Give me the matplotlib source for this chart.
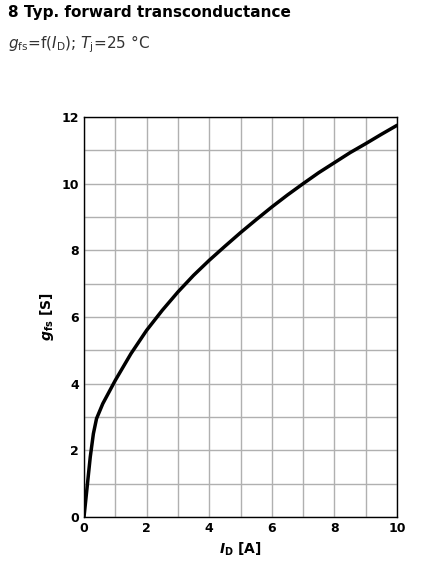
import matplotlib
matplotlib.use("Agg")
import matplotlib.pyplot as plt

id_a = [0, 0.1, 0.2, 0.3, 0.4, 0.6, 0.8, 1, 1.5, 2, 2.5, 3, 3.5, 4, 4.5, 5, 5.5, 6, 6.5, 7, 7.5, 8, 8.5, 9, 9.5, 10]
gfs = [0, 0.9, 1.8, 2.5, 2.95, 3.4, 3.75, 4.1, 4.9, 5.6, 6.2, 6.75, 7.25, 7.7, 8.12, 8.53, 8.92, 9.3, 9.66, 10.0, 10.33, 10.63, 10.93, 11.2, 11.48, 11.75]

fig = plt.figure(figsize=(4.42, 5.78), dpi=100)
ax = fig.add_axes([84/442, 1-517/578, 313/442, 400/578])
ax.plot(id_a, gfs, color='black', lw=2.5, solid_capstyle='round', solid_joinstyle='round')
ax.set_xlim(0, 10)
ax.set_ylim(0, 12)
ax.set_xticks(range(0, 11, 2))
ax.set_yticks(range(0, 13, 2))
ax.set_xticks(range(0, 11), minor=True)
ax.set_yticks(range(0, 13), minor=True)
ax.grid(which='both', color='#b0b0b0', lw=1)
ax.tick_params(which='both', length=0, labelsize=9)
for l in ax.get_xticklabels() + ax.get_yticklabels():
    l.set_fontweight('bold')
for s in ax.spines.values():
    s.set_linewidth(1)
ax.set_xlabel(r'$\mathbfit{I}_{\mathbf{D}}$ [A]', fontweight='bold', fontsize=10)
ax.set_ylabel(r'$\mathbfit{g}_{\mathbf{fs}}$ [S]', fontweight='bold', fontsize=10)
fig.text(8/442, 1-12/578, '8 Typ. forward transconductance', fontweight='bold', fontsize=11, va='center')
fig.text(8/442, 1-44/578, r'$g_{\mathrm{fs}}$=f($I_{\mathrm{D}}$); $T_{\mathrm{j}}$=25 °C', fontsize=11, va='center', color='#333333')
fig.savefig('out.png', dpi=100)
